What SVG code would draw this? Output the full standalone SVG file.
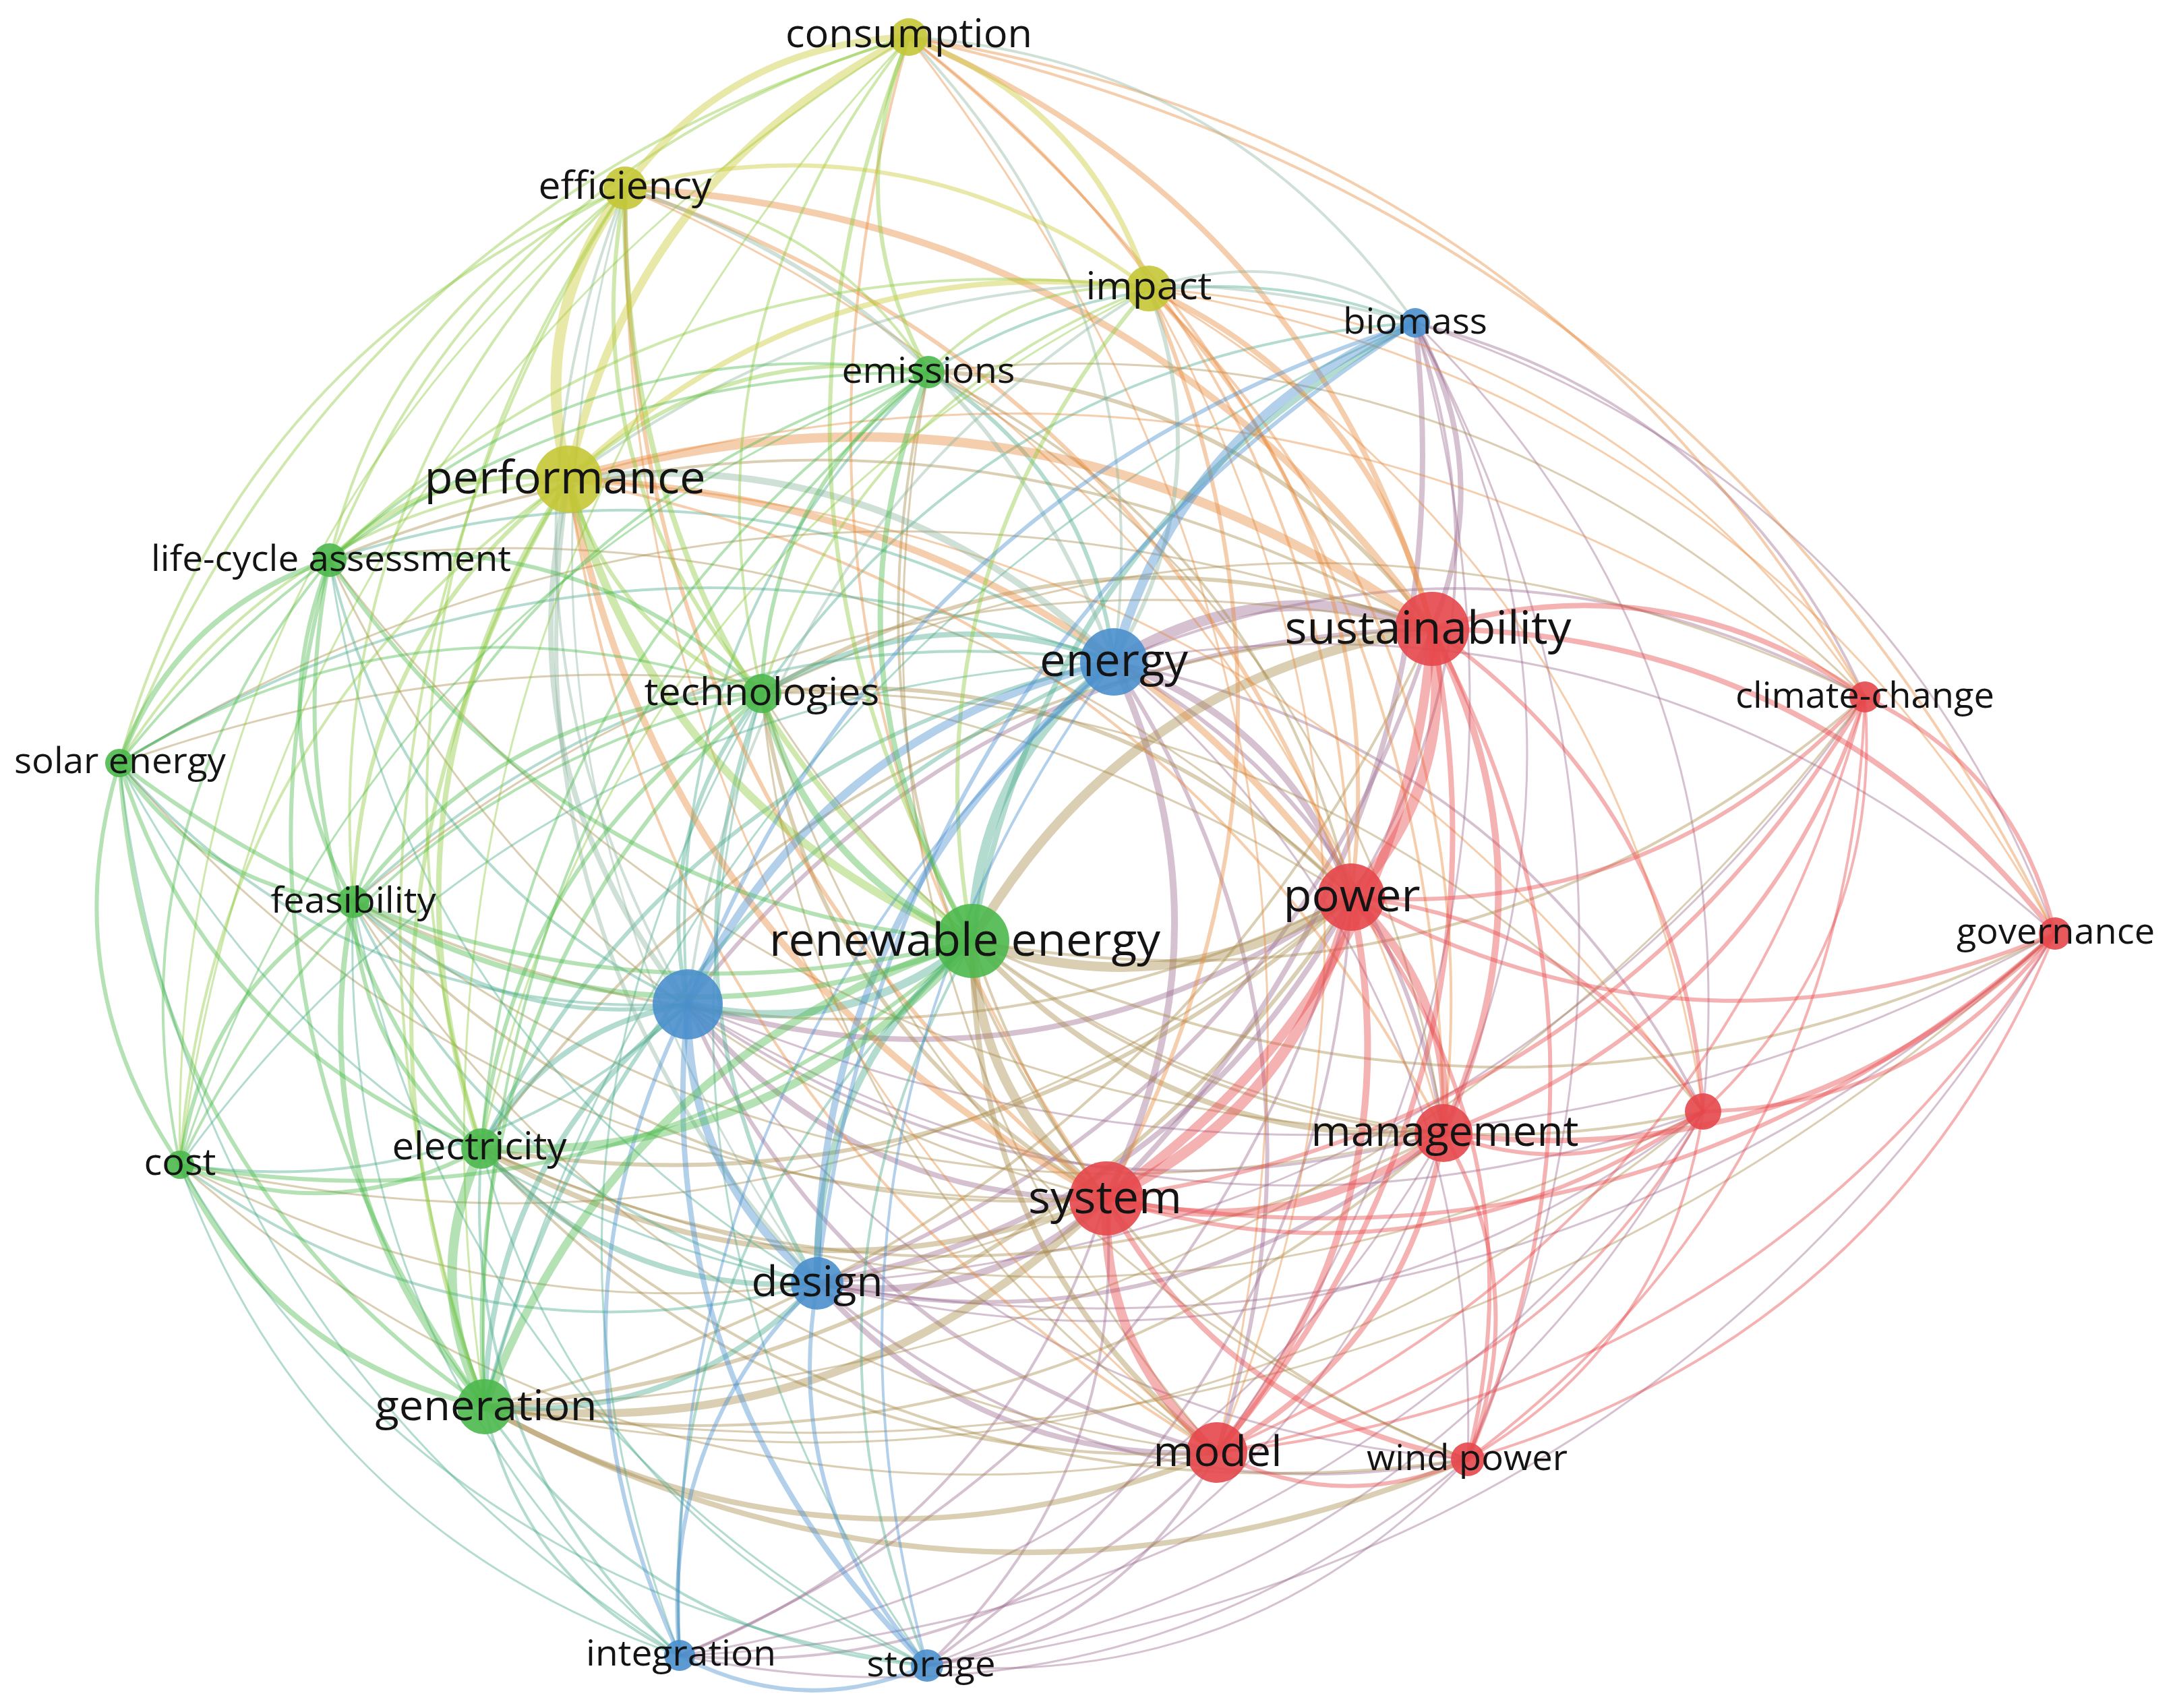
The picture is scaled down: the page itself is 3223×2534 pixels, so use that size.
<svg xmlns="http://www.w3.org/2000/svg" xmlns:xlink="http://www.w3.org/1999/xlink" width="3223" height="2534" viewBox="0 0 3223 2534">
<style>
#edges use{fill:none;stroke-opacity:.42}
.rr{stroke:#e8474a;stroke-opacity:.48}.gg{stroke:#4cba4c}.bb{stroke:#4a90d0}.yy{stroke:#c8c832}
.yr{stroke:#e88a3c}.yg{stroke:#8cc83c}.yb{stroke:#8cb4a0}.bg{stroke:#4aa98c}.br{stroke:#9a6c8e}.gr{stroke:#a88a4b}
.node circle{fill-opacity:.9}
.r circle{fill:#e5474b}.g circle{fill:#4cb84c}.b circle{fill:#4a8fcc}.y circle{fill:#c4c636}
.node text{font-family:"Open Sans","Noto Sans","Liberation Sans",sans-serif;fill:#141414;text-anchor:middle}
</style>
<defs>
<path id="c" d="M0 0Q.5 .24 1 0" fill="none" vector-effect="non-scaling-stroke" stroke-linecap="round"/>
</defs>
<rect width="3223" height="2534" fill="#fff"/>
<g id="edges">
<g class="br">
<use href="#c" stroke-width="8" transform="matrix(-25 -454 454 -25 2124 933)"/>
<use href="#c" stroke-width="4" transform="matrix(95 -852 852 95 2004 1331)"/>
<use href="#c" stroke-width="8" transform="matrix(458 -1299 1299 458 1641 1778)"/>
<use href="#c" stroke-width="3" transform="matrix(-42 -1202 1202 -42 2141 1681)"/>
<use href="#c" stroke-width="3" transform="matrix(-427 -1170 1170 -427 2526 1649)"/>
<use href="#c" stroke-width="3" transform="matrix(294 -1676 1676 294 1805 2155)"/>
<use href="#c" stroke-width="4" transform="matrix(-667 -555 555 -667 2766 1034)"/>
<use href="#c" stroke-width="3" transform="matrix(-949 -906 906 -949 3048 1385)"/>
<use href="#c" stroke-width="3" transform="matrix(-78 -1686 1686 -78 2177 2165)"/>
<use href="#c" stroke-width="16" transform="matrix(-472 49 -49 -472 2124 933)"/>
<use href="#c" stroke-width="10" transform="matrix(-352 -349 349 -352 2004 1331)"/>
<use href="#c" stroke-width="10" transform="matrix(11 -796 796 11 1641 1778)"/>
<use href="#c" stroke-width="6" transform="matrix(-489 -699 699 -489 2141 1681)"/>
<use href="#c" stroke-width="6" transform="matrix(-153 -1173 1173 -153 1805 2155)"/>
<use href="#c" stroke-width="4" transform="matrix(-1114 -52 52 -1114 2766 1034)"/>
<use href="#c" stroke-width="3" transform="matrix(-1396 -403 403 -1396 3048 1385)"/>
<use href="#c" stroke-width="4" transform="matrix(-874 -667 667 -874 2526 1649)"/>
<use href="#c" stroke-width="3" transform="matrix(-525 -1183 1183 -525 2177 2165)"/>
<use href="#c" stroke-width="6" transform="matrix(-1104 557 -557 -1104 2124 933)"/>
<use href="#c" stroke-width="8" transform="matrix(984 -159 159 984 1020 1490)"/>
<use href="#c" stroke-width="8" transform="matrix(621 288 -288 621 1020 1490)"/>
<use href="#c" stroke-width="6" transform="matrix(785 665 -665 785 1020 1490)"/>
<use href="#c" stroke-width="4" transform="matrix(1121 191 -191 1121 1020 1490)"/>
<use href="#c" stroke-width="3" transform="matrix(1157 675 -675 1157 1020 1490)"/>
<use href="#c" stroke-width="3" transform="matrix(1506 159 -159 1506 1020 1490)"/>
<use href="#c" stroke-width="3" transform="matrix(2028 -105 105 2028 1020 1490)"/>
<use href="#c" stroke-width="6" transform="matrix(912 -971 971 912 1212 1904)"/>
<use href="#c" stroke-width="8" transform="matrix(792 -573 573 792 1212 1904)"/>
<use href="#c" stroke-width="10" transform="matrix(429 -126 126 429 1212 1904)"/>
<use href="#c" stroke-width="8" transform="matrix(593 251 -251 593 1212 1904)"/>
<use href="#c" stroke-width="6" transform="matrix(929 -223 223 929 1212 1904)"/>
<use href="#c" stroke-width="4" transform="matrix(965 261 -261 965 1212 1904)"/>
<use href="#c" stroke-width="3" transform="matrix(1314 -255 255 1314 1212 1904)"/>
<use href="#c" stroke-width="3" transform="matrix(1554 -870 870 1554 1212 1904)"/>
<use href="#c" stroke-width="3" transform="matrix(1836 -519 519 1836 1212 1904)"/>
<use href="#c" stroke-width="4" transform="matrix(996 -1125 1125 996 1008 2456)"/>
<use href="#c" stroke-width="4" transform="matrix(633 -678 678 633 1008 2456)"/>
<use href="#c" stroke-width="4" transform="matrix(797 -301 301 797 1008 2456)"/>
<use href="#c" stroke-width="3" transform="matrix(1133 -775 775 1133 1008 2456)"/>
<use href="#c" stroke-width="3" transform="matrix(1169 -291 291 1169 1008 2456)"/>
<use href="#c" stroke-width="3" transform="matrix(1518 -807 807 1518 1008 2456)"/>
<use href="#c" stroke-width="4" transform="matrix(629 -1140 1140 629 1375 2471)"/>
<use href="#c" stroke-width="4" transform="matrix(266 -693 693 266 1375 2471)"/>
<use href="#c" stroke-width="4" transform="matrix(430 -316 316 430 1375 2471)"/>
<use href="#c" stroke-width="3" transform="matrix(766 -790 790 766 1375 2471)"/>
<use href="#c" stroke-width="3" transform="matrix(802 -306 306 802 1375 2471)"/>
<use href="#c" stroke-width="3" transform="matrix(1151 -822 822 1151 1375 2471)"/>
<use href="#c" stroke-width="3" transform="matrix(1673 -1086 1086 1673 1375 2471)"/>
</g>
<g class="gr">
<use href="#c" stroke-width="6" transform="matrix(-747 -381 381 -747 2124 933)"/>
<use href="#c" stroke-width="4" transform="matrix(-627 -779 779 -627 2004 1331)"/>
<use href="#c" stroke-width="4" transform="matrix(264 1226 -1226 264 1377 552)"/>
<use href="#c" stroke-width="3" transform="matrix(-1389 -482 482 -1389 2766 1034)"/>
<use href="#c" stroke-width="3" transform="matrix(-764 -1129 1129 -764 2141 1681)"/>
<use href="#c" stroke-width="3" transform="matrix(428 1603 -1603 428 1377 552)"/>
<use href="#c" stroke-width="4" transform="matrix(-1635 -102 102 -1635 2124 933)"/>
<use href="#c" stroke-width="3" transform="matrix(-1515 -500 500 -1515 2004 1331)"/>
<use href="#c" stroke-width="3" transform="matrix(1152 947 -947 1152 489 831)"/>
<use href="#c" stroke-width="3" transform="matrix(1652 850 -850 1652 489 831)"/>
<use href="#c" stroke-width="6" transform="matrix(-994 96 -96 -994 2124 933)"/>
<use href="#c" stroke-width="6" transform="matrix(-874 -302 302 -874 2004 1331)"/>
<use href="#c" stroke-width="6" transform="matrix(511 749 -749 511 1130 1029)"/>
<use href="#c" stroke-width="3" transform="matrix(1011 652 -652 1011 1130 1029)"/>
<use href="#c" stroke-width="3" transform="matrix(675 1126 -1126 675 1130 1029)"/>
<use href="#c" stroke-width="3" transform="matrix(1047 1136 -1136 1047 1130 1029)"/>
<use href="#c" stroke-width="3" transform="matrix(-1396 -620 620 -1396 2526 1649)"/>
<use href="#c" stroke-width="3" transform="matrix(-1636 -5 5 -1636 2766 1034)"/>
<use href="#c" stroke-width="3" transform="matrix(1464 646 -646 1464 177 1132)"/>
<use href="#c" stroke-width="3" transform="matrix(-1947 199 -199 -1947 2124 933)"/>
<use href="#c" stroke-width="3" transform="matrix(-1827 -199 199 -1827 2004 1331)"/>
<use href="#c" stroke-width="4" transform="matrix(1117 440 -440 1117 524 1338)"/>
<use href="#c" stroke-width="4" transform="matrix(1480 -7 7 1480 524 1338)"/>
<use href="#c" stroke-width="3" transform="matrix(-1600 405 -405 -1600 2124 933)"/>
<use href="#c" stroke-width="3" transform="matrix(1617 343 -343 1617 524 1338)"/>
<use href="#c" stroke-width="3" transform="matrix(1281 817 -817 1281 524 1338)"/>
<use href="#c" stroke-width="14" transform="matrix(-682 463 -463 -682 2124 933)"/>
<use href="#c" stroke-width="14" transform="matrix(562 -65 65 562 1442 1396)"/>
<use href="#c" stroke-width="14" transform="matrix(199 382 -382 199 1442 1396)"/>
<use href="#c" stroke-width="8" transform="matrix(699 285 -285 699 1442 1396)"/>
<use href="#c" stroke-width="8" transform="matrix(363 759 -759 363 1442 1396)"/>
<use href="#c" stroke-width="4" transform="matrix(1324 -362 362 1324 1442 1396)"/>
<use href="#c" stroke-width="4" transform="matrix(1606 -11 11 1606 1442 1396)"/>
<use href="#c" stroke-width="4" transform="matrix(1084 253 -253 1084 1442 1396)"/>
<use href="#c" stroke-width="4" transform="matrix(735 769 -769 735 1442 1396)"/>
<use href="#c" stroke-width="4" transform="matrix(-1410 771 -771 -1410 2124 933)"/>
<use href="#c" stroke-width="6" transform="matrix(1290 -373 373 1290 714 1704)"/>
<use href="#c" stroke-width="8" transform="matrix(927 74 -74 927 714 1704)"/>
<use href="#c" stroke-width="4" transform="matrix(1091 451 -451 1091 714 1704)"/>
<use href="#c" stroke-width="4" transform="matrix(1427 -23 23 1427 714 1704)"/>
<use href="#c" stroke-width="3" transform="matrix(1812 -55 55 1812 714 1704)"/>
<use href="#c" stroke-width="4" transform="matrix(1463 461 -461 1463 714 1704)"/>
<use href="#c" stroke-width="3" transform="matrix(1374 50 -50 1374 267 1728)"/>
<use href="#c" stroke-width="3" transform="matrix(1737 -397 397 1737 267 1728)"/>
<use href="#c" stroke-width="3" transform="matrix(1538 427 -427 1538 267 1728)"/>
<use href="#c" stroke-width="4" transform="matrix(1405 -1154 1154 1405 719 2087)"/>
<use href="#c" stroke-width="6" transform="matrix(1285 -756 756 1285 719 2087)"/>
<use href="#c" stroke-width="12" transform="matrix(922 -309 309 922 719 2087)"/>
<use href="#c" stroke-width="8" transform="matrix(1086 68 -68 1086 719 2087)"/>
<use href="#c" stroke-width="4" transform="matrix(1422 -406 406 1422 719 2087)"/>
<use href="#c" stroke-width="8" transform="matrix(1458 78 -78 1458 719 2087)"/>
<use href="#c" stroke-width="3" transform="matrix(1807 -438 438 1807 719 2087)"/>
<use href="#c" stroke-width="3" transform="matrix(2047 -1053 1053 2047 719 2087)"/>
<use href="#c" stroke-width="3" transform="matrix(2329 -702 702 2329 719 2087)"/>
</g>
<g class="bg">
<use href="#c" stroke-width="8" transform="matrix(-657 917 -917 -657 2099 479)"/>
<use href="#c" stroke-width="4" transform="matrix(-722 73 -73 -722 2099 479)"/>
<use href="#c" stroke-width="4" transform="matrix(-969 550 -550 -969 2099 479)"/>
<use href="#c" stroke-width="3" transform="matrix(-1380 1608 -1608 -1380 2099 479)"/>
<use href="#c" stroke-width="6" transform="matrix(-275 -430 430 -275 1652 982)"/>
<use href="#c" stroke-width="4" transform="matrix(-1163 -151 151 -1163 1652 982)"/>
<use href="#c" stroke-width="8" transform="matrix(-522 47 -47 -522 1652 982)"/>
<use href="#c" stroke-width="4" transform="matrix(-1475 150 -150 -1475 1652 982)"/>
<use href="#c" stroke-width="4" transform="matrix(-1128 356 -356 -1128 1652 982)"/>
<use href="#c" stroke-width="14" transform="matrix(-210 414 -414 -210 1652 982)"/>
<use href="#c" stroke-width="6" transform="matrix(-938 722 -722 -938 1652 982)"/>
<use href="#c" stroke-width="6" transform="matrix(-933 1105 -1105 -933 1652 982)"/>
<use href="#c" stroke-width="3" transform="matrix(-1385 746 -746 -1385 1652 982)"/>
<use href="#c" stroke-width="4" transform="matrix(531 659 -659 531 489 831)"/>
<use href="#c" stroke-width="6" transform="matrix(-110 461 -461 -110 1130 1029)"/>
<use href="#c" stroke-width="4" transform="matrix(843 358 -358 843 177 1132)"/>
<use href="#c" stroke-width="6" transform="matrix(496 152 -152 496 524 1338)"/>
<use href="#c" stroke-width="12" transform="matrix(422 -94 94 422 1020 1490)"/>
<use href="#c" stroke-width="8" transform="matrix(-306 214 -214 -306 1020 1490)"/>
<use href="#c" stroke-width="4" transform="matrix(753 -238 238 753 267 1728)"/>
<use href="#c" stroke-width="8" transform="matrix(-301 597 -597 -301 1020 1490)"/>
<use href="#c" stroke-width="4" transform="matrix(-357 938 -938 -357 1377 552)"/>
<use href="#c" stroke-width="6" transform="matrix(82 875 -875 82 1130 1029)"/>
<use href="#c" stroke-width="4" transform="matrix(688 566 -566 688 524 1338)"/>
<use href="#c" stroke-width="10" transform="matrix(-230 508 -508 -230 1442 1396)"/>
<use href="#c" stroke-width="8" transform="matrix(498 200 -200 498 714 1704)"/>
<use href="#c" stroke-width="8" transform="matrix(493 -183 183 493 719 2087)"/>
<use href="#c" stroke-width="4" transform="matrix(945 176 -176 945 267 1728)"/>
<use href="#c" stroke-width="3" transform="matrix(1035 772 -772 1035 177 1132)"/>
<use href="#c" stroke-width="3" transform="matrix(723 1073 -1073 723 489 831)"/>
<use href="#c" stroke-width="4" transform="matrix(-434 1060 -1060 -434 1442 1396)"/>
<use href="#c" stroke-width="4" transform="matrix(294 752 -752 294 714 1704)"/>
<use href="#c" stroke-width="3" transform="matrix(741 728 -728 741 267 1728)"/>
<use href="#c" stroke-width="4" transform="matrix(289 369 -369 289 719 2087)"/>
<use href="#c" stroke-width="3" transform="matrix(484 1118 -1118 484 524 1338)"/>
<use href="#c" stroke-width="3" transform="matrix(831 1324 -1324 831 177 1132)"/>
<use href="#c" stroke-width="3" transform="matrix(-122 1427 -1427 -122 1130 1029)"/>
<use href="#c" stroke-width="4" transform="matrix(-67 1075 -1075 -67 1442 1396)"/>
<use href="#c" stroke-width="3" transform="matrix(661 767 -767 661 714 1704)"/>
<use href="#c" stroke-width="4" transform="matrix(656 384 -384 656 719 2087)"/>
<use href="#c" stroke-width="3" transform="matrix(1108 743 -743 1108 267 1728)"/>
<use href="#c" stroke-width="3" transform="matrix(245 1442 -1442 245 1130 1029)"/>
<use href="#c" stroke-width="3" transform="matrix(851 1133 -1133 851 524 1338)"/>
</g>
<g class="yr">
<use href="#c" stroke-width="8" transform="matrix(-776 -878 878 -776 2124 933)"/>
<use href="#c" stroke-width="4" transform="matrix(-1418 -979 979 -1418 2766 1034)"/>
<use href="#c" stroke-width="4" transform="matrix(-656 -1276 1276 -656 2004 1331)"/>
<use href="#c" stroke-width="4" transform="matrix(-1700 -1330 1330 -1700 3048 1385)"/>
<use href="#c" stroke-width="4" transform="matrix(293 1723 -1723 293 1348 55)"/>
<use href="#c" stroke-width="4" transform="matrix(-793 -1626 1626 -793 2141 1681)"/>
<use href="#c" stroke-width="3" transform="matrix(-457 -2100 2100 -457 1805 2155)"/>
<use href="#c" stroke-width="10" transform="matrix(-1197 -654 654 -1197 2124 933)"/>
<use href="#c" stroke-width="6" transform="matrix(-1077 -1052 1052 -1077 2004 1331)"/>
<use href="#c" stroke-width="6" transform="matrix(714 1499 -1499 714 927 279)"/>
<use href="#c" stroke-width="3" transform="matrix(-1214 -1402 1402 -1214 2141 1681)"/>
<use href="#c" stroke-width="3" transform="matrix(878 1876 -1876 878 927 279)"/>
<use href="#c" stroke-width="8" transform="matrix(-420 -505 505 -420 2124 933)"/>
<use href="#c" stroke-width="6" transform="matrix(-300 -903 903 -300 2004 1331)"/>
<use href="#c" stroke-width="6" transform="matrix(63 -1350 1350 63 1641 1778)"/>
<use href="#c" stroke-width="4" transform="matrix(-437 -1253 1253 -437 2141 1681)"/>
<use href="#c" stroke-width="3" transform="matrix(-1062 -606 606 -1062 2766 1034)"/>
<use href="#c" stroke-width="3" transform="matrix(-101 -1727 1727 -101 1805 2155)"/>
<use href="#c" stroke-width="3" transform="matrix(-1344 -957 957 -1344 3048 1385)"/>
<use href="#c" stroke-width="3" transform="matrix(-822 -1221 1221 -822 2526 1649)"/>
<use href="#c" stroke-width="14" transform="matrix(-1281 -222 222 -1281 2124 933)"/>
<use href="#c" stroke-width="10" transform="matrix(-1161 -620 620 -1161 2004 1331)"/>
<use href="#c" stroke-width="10" transform="matrix(798 1067 -1067 798 843 711)"/>
<use href="#c" stroke-width="4" transform="matrix(-1298 -970 970 -1298 2141 1681)"/>
<use href="#c" stroke-width="4" transform="matrix(962 1444 -1444 962 843 711)"/>
<use href="#c" stroke-width="3" transform="matrix(-1923 -323 323 -1923 2766 1034)"/>
<use href="#c" stroke-width="3" transform="matrix(-1683 -938 938 -1683 2526 1649)"/>
</g>
<g class="yb">
<use href="#c" stroke-width="4" transform="matrix(-751 -424 424 -751 2099 479)"/>
<use href="#c" stroke-width="4" transform="matrix(-304 -927 927 -304 1652 982)"/>
<use href="#c" stroke-width="6" transform="matrix(-725 -703 703 -725 1652 982)"/>
<use href="#c" stroke-width="4" transform="matrix(93 1211 -1211 93 927 279)"/>
<use href="#c" stroke-width="3" transform="matrix(285 1625 -1625 285 927 279)"/>
<use href="#c" stroke-width="4" transform="matrix(-395 -51 51 -395 2099 479)"/>
<use href="#c" stroke-width="6" transform="matrix(52 -554 554 52 1652 982)"/>
<use href="#c" stroke-width="4" transform="matrix(-684 1062 -1062 -684 1704 428)"/>
<use href="#c" stroke-width="10" transform="matrix(-809 -271 271 -809 1652 982)"/>
<use href="#c" stroke-width="8" transform="matrix(177 779 -779 177 843 711)"/>
<use href="#c" stroke-width="6" transform="matrix(369 1193 -1193 369 843 711)"/>
<use href="#c" stroke-width="4" transform="matrix(-1256 232 -232 -1256 2099 479)"/>
</g>
<g class="yg">
<use href="#c" stroke-width="6" transform="matrix(29 497 -497 29 1348 55)"/>
<use href="#c" stroke-width="4" transform="matrix(-859 776 -776 -859 1348 55)"/>
<use href="#c" stroke-width="4" transform="matrix(-218 974 -974 -218 1348 55)"/>
<use href="#c" stroke-width="6" transform="matrix(94 1341 -1341 94 1348 55)"/>
<use href="#c" stroke-width="4" transform="matrix(-1171 1077 -1077 -1171 1348 55)"/>
<use href="#c" stroke-width="3" transform="matrix(-629 2032 -2032 -629 1348 55)"/>
<use href="#c" stroke-width="3" transform="matrix(-1081 1673 -1673 -1081 1348 55)"/>
<use href="#c" stroke-width="4" transform="matrix(-450 -273 273 -450 1377 552)"/>
<use href="#c" stroke-width="4" transform="matrix(-438 552 -552 -438 927 279)"/>
<use href="#c" stroke-width="6" transform="matrix(203 750 -750 203 927 279)"/>
<use href="#c" stroke-width="8" transform="matrix(515 1117 -1117 515 927 279)"/>
<use href="#c" stroke-width="4" transform="matrix(-750 853 -853 -750 927 279)"/>
<use href="#c" stroke-width="4" transform="matrix(-213 1425 -1425 -213 927 279)"/>
<use href="#c" stroke-width="4" transform="matrix(-208 1808 -1808 -208 927 279)"/>
<use href="#c" stroke-width="4" transform="matrix(-403 1059 -1059 -403 927 279)"/>
<use href="#c" stroke-width="3" transform="matrix(-660 1449 -1449 -660 927 279)"/>
<use href="#c" stroke-width="4" transform="matrix(-327 124 -124 -327 1704 428)"/>
<use href="#c" stroke-width="4" transform="matrix(-574 601 -601 -574 1704 428)"/>
<use href="#c" stroke-width="6" transform="matrix(-262 968 -968 -262 1704 428)"/>
<use href="#c" stroke-width="4" transform="matrix(-1215 403 -403 -1215 1704 428)"/>
<use href="#c" stroke-width="3" transform="matrix(-990 1276 -1276 -990 1704 428)"/>
<use href="#c" stroke-width="6" transform="matrix(-534 159 -159 -534 1377 552)"/>
<use href="#c" stroke-width="8" transform="matrix(-354 120 -120 -354 843 711)"/>
<use href="#c" stroke-width="6" transform="matrix(287 318 -318 287 843 711)"/>
<use href="#c" stroke-width="4" transform="matrix(-666 421 -421 -666 843 711)"/>
<use href="#c" stroke-width="6" transform="matrix(-319 627 -627 -319 843 711)"/>
<use href="#c" stroke-width="12" transform="matrix(599 685 -685 599 843 711)"/>
<use href="#c" stroke-width="8" transform="matrix(-129 993 -993 -129 843 711)"/>
<use href="#c" stroke-width="6" transform="matrix(-124 1376 -1376 -124 843 711)"/>
<use href="#c" stroke-width="4" transform="matrix(-576 1017 -1017 -576 843 711)"/>
</g>
<g class="yy">
<use href="#c" stroke-width="10" transform="matrix(-421 224 -224 -421 1348 55)"/>
<use href="#c" stroke-width="8" transform="matrix(-356 -373 373 -356 1704 428)"/>
<use href="#c" stroke-width="12" transform="matrix(-505 656 -656 -505 1348 55)"/>
<use href="#c" stroke-width="6" transform="matrix(-777 -149 149 -777 1704 428)"/>
<use href="#c" stroke-width="16" transform="matrix(-84 432 -432 -84 927 279)"/>
<use href="#c" stroke-width="8" transform="matrix(-861 283 -283 -861 1704 428)"/>
</g>
<g class="bb">
<use href="#c" stroke-width="14" transform="matrix(-447 503 -503 -447 2099 479)"/>
<use href="#c" stroke-width="6" transform="matrix(-1079 1011 -1011 -1079 2099 479)"/>
<use href="#c" stroke-width="6" transform="matrix(-887 1425 -1425 -887 2099 479)"/>
<use href="#c" stroke-width="12" transform="matrix(-632 508 -508 -632 1652 982)"/>
<use href="#c" stroke-width="10" transform="matrix(-440 922 -922 -440 1652 982)"/>
<use href="#c" stroke-width="4" transform="matrix(-644 1474 -1474 -644 1652 982)"/>
<use href="#c" stroke-width="4" transform="matrix(-277 1489 -1489 -277 1652 982)"/>
<use href="#c" stroke-width="12" transform="matrix(192 414 -414 192 1020 1490)"/>
<use href="#c" stroke-width="6" transform="matrix(-12 966 -966 -12 1020 1490)"/>
<use href="#c" stroke-width="8" transform="matrix(355 981 -981 355 1020 1490)"/>
<use href="#c" stroke-width="6" transform="matrix(-204 552 -552 -204 1212 1904)"/>
<use href="#c" stroke-width="6" transform="matrix(163 567 -567 163 1212 1904)"/>
<use href="#c" stroke-width="6" transform="matrix(367 15 -15 367 1008 2456)"/>
</g>
<g class="gg">
<use href="#c" stroke-width="4" transform="matrix(-888 279 -279 -888 1377 552)"/>
<use href="#c" stroke-width="6" transform="matrix(-247 477 -477 -247 1377 552)"/>
<use href="#c" stroke-width="4" transform="matrix(-1200 580 -580 -1200 1377 552)"/>
<use href="#c" stroke-width="4" transform="matrix(-853 786 -786 -853 1377 552)"/>
<use href="#c" stroke-width="8" transform="matrix(65 844 -844 65 1377 552)"/>
<use href="#c" stroke-width="4" transform="matrix(-663 1152 -1152 -663 1377 552)"/>
<use href="#c" stroke-width="3" transform="matrix(-1110 1176 -1176 -1110 1377 552)"/>
<use href="#c" stroke-width="4" transform="matrix(-658 1535 -1535 -658 1377 552)"/>
<use href="#c" stroke-width="6" transform="matrix(-641 -198 198 -641 1130 1029)"/>
<use href="#c" stroke-width="8" transform="matrix(-312 301 -301 -312 489 831)"/>
<use href="#c" stroke-width="6" transform="matrix(35 507 -507 35 489 831)"/>
<use href="#c" stroke-width="6" transform="matrix(953 565 -565 953 489 831)"/>
<use href="#c" stroke-width="6" transform="matrix(225 873 -873 225 489 831)"/>
<use href="#c" stroke-width="4" transform="matrix(-222 897 -897 -222 489 831)"/>
<use href="#c" stroke-width="6" transform="matrix(230 1256 -1256 230 489 831)"/>
<use href="#c" stroke-width="4" transform="matrix(-953 103 -103 -953 1130 1029)"/>
<use href="#c" stroke-width="6" transform="matrix(-606 309 -309 -606 1130 1029)"/>
<use href="#c" stroke-width="10" transform="matrix(312 367 -367 312 1130 1029)"/>
<use href="#c" stroke-width="6" transform="matrix(-416 675 -675 -416 1130 1029)"/>
<use href="#c" stroke-width="4" transform="matrix(-863 699 -699 -863 1130 1029)"/>
<use href="#c" stroke-width="6" transform="matrix(-411 1058 -1058 -411 1130 1029)"/>
<use href="#c" stroke-width="6" transform="matrix(347 206 -206 347 177 1132)"/>
<use href="#c" stroke-width="6" transform="matrix(1265 264 -264 1265 177 1132)"/>
<use href="#c" stroke-width="6" transform="matrix(537 572 -572 537 177 1132)"/>
<use href="#c" stroke-width="6" transform="matrix(90 596 -596 90 177 1132)"/>
<use href="#c" stroke-width="6" transform="matrix(542 955 -955 542 177 1132)"/>
<use href="#c" stroke-width="8" transform="matrix(918 58 -58 918 524 1338)"/>
<use href="#c" stroke-width="6" transform="matrix(190 366 -366 190 524 1338)"/>
<use href="#c" stroke-width="6" transform="matrix(-257 390 -390 -257 524 1338)"/>
<use href="#c" stroke-width="8" transform="matrix(195 749 -749 195 524 1338)"/>
<use href="#c" stroke-width="12" transform="matrix(728 -308 308 728 714 1704)"/>
<use href="#c" stroke-width="6" transform="matrix(1175 -332 332 1175 267 1728)"/>
<use href="#c" stroke-width="12" transform="matrix(-723 691 -691 -723 1442 1396)"/>
<use href="#c" stroke-width="6" transform="matrix(447 -24 24 447 267 1728)"/>
<use href="#c" stroke-width="14" transform="matrix(5 383 -383 5 714 1704)"/>
<use href="#c" stroke-width="8" transform="matrix(452 359 -359 452 267 1728)"/>
</g>
<g class="rr">
<use href="#c" stroke-width="8" transform="matrix(-642 -101 101 -642 2766 1034)"/>
<use href="#c" stroke-width="16" transform="matrix(120 -398 398 120 2004 1331)"/>
<use href="#c" stroke-width="8" transform="matrix(-924 -452 452 -924 3048 1385)"/>
<use href="#c" stroke-width="6" transform="matrix(-402 -716 716 -402 2526 1649)"/>
<use href="#c" stroke-width="10" transform="matrix(-17 -748 748 -17 2141 1681)"/>
<use href="#c" stroke-width="14" transform="matrix(483 -845 845 483 1641 1778)"/>
<use href="#c" stroke-width="8" transform="matrix(319 -1222 1222 319 1805 2155)"/>
<use href="#c" stroke-width="6" transform="matrix(-53 -1232 1232 -53 2177 2165)"/>
<use href="#c" stroke-width="6" transform="matrix(762 -297 297 762 2004 1331)"/>
<use href="#c" stroke-width="6" transform="matrix(-282 -351 351 -282 3048 1385)"/>
<use href="#c" stroke-width="4" transform="matrix(240 -615 615 240 2526 1649)"/>
<use href="#c" stroke-width="6" transform="matrix(625 -647 647 625 2141 1681)"/>
<use href="#c" stroke-width="6" transform="matrix(1125 -744 744 1125 1641 1778)"/>
<use href="#c" stroke-width="4" transform="matrix(961 -1121 1121 961 1805 2155)"/>
<use href="#c" stroke-width="4" transform="matrix(589 -1131 1131 589 2177 2165)"/>
<use href="#c" stroke-width="6" transform="matrix(1044 54 -54 1044 2004 1331)"/>
<use href="#c" stroke-width="6" transform="matrix(-522 -318 318 -522 2526 1649)"/>
<use href="#c" stroke-width="12" transform="matrix(-137 -350 350 -137 2141 1681)"/>
<use href="#c" stroke-width="16" transform="matrix(363 -447 447 363 1641 1778)"/>
<use href="#c" stroke-width="10" transform="matrix(199 -824 824 199 1805 2155)"/>
<use href="#c" stroke-width="6" transform="matrix(-173 -834 834 -173 2177 2165)"/>
<use href="#c" stroke-width="6" transform="matrix(522 -264 264 522 2526 1649)"/>
<use href="#c" stroke-width="8" transform="matrix(907 -296 296 907 2141 1681)"/>
<use href="#c" stroke-width="6" transform="matrix(1407 -393 393 1407 1641 1778)"/>
<use href="#c" stroke-width="4" transform="matrix(1243 -770 770 1243 1805 2155)"/>
<use href="#c" stroke-width="4" transform="matrix(871 -780 780 871 2177 2165)"/>
<use href="#c" stroke-width="6" transform="matrix(385 -32 32 385 2141 1681)"/>
<use href="#c" stroke-width="6" transform="matrix(885 -129 129 885 1641 1778)"/>
<use href="#c" stroke-width="4" transform="matrix(721 -506 506 721 1805 2155)"/>
<use href="#c" stroke-width="4" transform="matrix(349 -516 516 349 2177 2165)"/>
<use href="#c" stroke-width="12" transform="matrix(500 -97 97 500 1641 1778)"/>
<use href="#c" stroke-width="8" transform="matrix(336 -474 474 336 1805 2155)"/>
<use href="#c" stroke-width="6" transform="matrix(-36 -484 484 -36 2177 2165)"/>
<use href="#c" stroke-width="14" transform="matrix(164 377 -377 164 1641 1778)"/>
<use href="#c" stroke-width="8" transform="matrix(536 387 -387 536 1641 1778)"/>
<use href="#c" stroke-width="6" transform="matrix(372 10 -10 372 1805 2155)"/>
</g>
</g>
<g id="node-consumption" class="node y"><circle cx="1348" cy="55" r="28"/><text x="1348" y="70" font-size="58" textLength="366" lengthAdjust="spacingAndGlyphs">consumption</text></g>
<g id="node-efficiency" class="node y"><circle cx="927" cy="279" r="32"/><text x="927" y="295" font-size="57" textLength="257" lengthAdjust="spacingAndGlyphs">efficiency</text></g>
<g id="node-impact" class="node y"><circle cx="1704" cy="428" r="34"/><text x="1704" y="444" font-size="57" textLength="187" lengthAdjust="spacingAndGlyphs">impact</text></g>
<g id="node-performance" class="node y"><circle cx="843" cy="711" r="50"/><text x="838" y="732" font-size="67" textLength="417" lengthAdjust="spacingAndGlyphs">performance</text></g>
<g id="node-biomass" class="node b"><circle cx="2099" cy="479" r="22"/><text x="2099" y="495" font-size="53" textLength="214" lengthAdjust="spacingAndGlyphs">biomass</text></g>
<g id="node-energy" class="node b"><circle cx="1652" cy="982" r="50"/><text x="1652" y="1003" font-size="67" textLength="220" lengthAdjust="spacingAndGlyphs">energy</text></g>
<g id="node-unlabelled-blue" class="node b"><circle cx="1020" cy="1490" r="52"/></g>
<g id="node-design" class="node b"><circle cx="1212" cy="1904" r="39"/><text x="1212" y="1923" font-size="62" textLength="195" lengthAdjust="spacingAndGlyphs">design</text></g>
<g id="node-integration" class="node b"><circle cx="1008" cy="2456" r="23"/><text x="1010" y="2471" font-size="53" textLength="282" lengthAdjust="spacingAndGlyphs">integration</text></g>
<g id="node-storage" class="node b"><circle cx="1375" cy="2471" r="24"/><text x="1381" y="2487" font-size="53" textLength="191" lengthAdjust="spacingAndGlyphs">storage</text></g>
<g id="node-emissions" class="node g"><circle cx="1377" cy="552" r="24"/><text x="1377" y="568" font-size="53" textLength="257" lengthAdjust="spacingAndGlyphs">emissions</text></g>
<g id="node-life-cycle-assessment" class="node g"><circle cx="489" cy="831" r="25"/><text x="491" y="847" font-size="53" textLength="534" lengthAdjust="spacingAndGlyphs">life-cycle assessment</text></g>
<g id="node-technologies" class="node g"><circle cx="1130" cy="1029" r="29"/><text x="1130" y="1046" font-size="57" textLength="349" lengthAdjust="spacingAndGlyphs">technologies</text></g>
<g id="node-solar-energy" class="node g"><circle cx="177" cy="1132" r="21"/><text x="178" y="1147" font-size="53" textLength="314" lengthAdjust="spacingAndGlyphs">solar energy</text></g>
<g id="node-feasibility" class="node g"><circle cx="524" cy="1338" r="24"/><text x="524" y="1354" font-size="53" textLength="245" lengthAdjust="spacingAndGlyphs">feasibility</text></g>
<g id="node-renewable-energy" class="node g"><circle cx="1442" cy="1396" r="55"/><text x="1431" y="1418" font-size="67" textLength="580" lengthAdjust="spacingAndGlyphs">renewable energy</text></g>
<g id="node-electricity" class="node g"><circle cx="714" cy="1704" r="30"/><text x="711" y="1720" font-size="57" textLength="259" lengthAdjust="spacingAndGlyphs">electricity</text></g>
<g id="node-cost" class="node g"><circle cx="267" cy="1728" r="21"/><text x="267" y="1743" font-size="54" textLength="107" lengthAdjust="spacingAndGlyphs">cost</text></g>
<g id="node-generation" class="node g"><circle cx="719" cy="2087" r="41"/><text x="721" y="2107" font-size="63" textLength="329" lengthAdjust="spacingAndGlyphs">generation</text></g>
<g id="node-sustainability" class="node r"><circle cx="2124" cy="933" r="55"/><text x="2118" y="955" font-size="67" textLength="425" lengthAdjust="spacingAndGlyphs">sustainability</text></g>
<g id="node-climate-change" class="node r"><circle cx="2766" cy="1034" r="23"/><text x="2766" y="1050" font-size="53" textLength="384" lengthAdjust="spacingAndGlyphs">climate-change</text></g>
<g id="node-power" class="node r"><circle cx="2004" cy="1331" r="50"/><text x="2005" y="1352" font-size="67" textLength="203" lengthAdjust="spacingAndGlyphs">power</text></g>
<g id="node-governance" class="node r"><circle cx="3048" cy="1385" r="24"/><text x="3049" y="1400" font-size="53" textLength="294" lengthAdjust="spacingAndGlyphs">governance</text></g>
<g id="node-unlabelled-red" class="node r"><circle cx="2526" cy="1649" r="27"/></g>
<g id="node-management" class="node r"><circle cx="2141" cy="1681" r="43"/><text x="2143" y="1700" font-size="62" textLength="397" lengthAdjust="spacingAndGlyphs">management</text></g>
<g id="node-system" class="node r"><circle cx="1641" cy="1778" r="55"/><text x="1639" y="1800" font-size="67" textLength="228" lengthAdjust="spacingAndGlyphs">system</text></g>
<g id="node-model" class="node r"><circle cx="1805" cy="2155" r="45"/><text x="1806" y="2175" font-size="62" textLength="191" lengthAdjust="spacingAndGlyphs">model</text></g>
<g id="node-wind-power" class="node r"><circle cx="2177" cy="2165" r="25"/><text x="2176" y="2181" font-size="53" textLength="298" lengthAdjust="spacingAndGlyphs">wind power</text></g>
</svg>
